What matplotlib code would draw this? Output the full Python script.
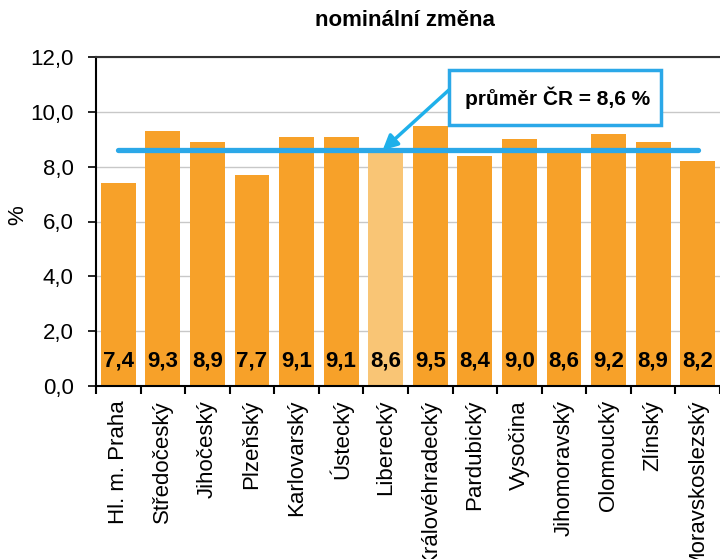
import matplotlib
matplotlib.use("Agg")
import matplotlib.pyplot as plt
from matplotlib.patches import Rectangle
import numpy as np

categories = ["Hl. m. Praha", "Středočeský", "Jihočeský", "Plzeňský", "Karlovarský",
              "Ústecký", "Liberecký", "Královéhradecký", "Pardubický", "Vysočina",
              "Jihomoravský", "Olomoucký", "Zlínský", "Moravskoslezský"]
values = [7.4, 9.3, 8.9, 7.7, 9.1, 9.1, 8.6, 9.5, 8.4, 9.0, 8.6, 9.2, 8.9, 8.2]
average = 8.6
highlight = "Liberecký"

plt.rcParams['font.family'] = ['Liberation Sans', 'DejaVu Sans']

fig = plt.figure(figsize=(7.2, 5.59), dpi=100)
ax = fig.add_axes([96/720, 1-386/559, 1-96/720, (386-57)/559])

x = np.arange(len(categories))
colors = ["#F9C575" if c == highlight else "#F7A129" for c in categories]
ax.bar(x, values, width=0.78, color=colors, zorder=2)
ax.set_xlim(-0.5, len(categories) - 0.5)
ax.set_ylim(0, 12)
yt = np.arange(0, 12.1, 2)
ax.set_yticks(yt)
ax.set_yticklabels([f"{v:.1f}".replace(".", ",") for v in yt], fontsize=16)
ax.yaxis.grid(True, color="#C8C8C8", linewidth=1, zorder=0)
ax.set_axisbelow(True)
ax.set_xticks(x)
ax.set_xticklabels(categories, rotation=90, fontsize=16)
ax.set_xticks(np.arange(-0.5, len(categories)), minor=True)
ax.tick_params(axis="x", which="major", length=0, pad=10)
ax.tick_params(axis="x", which="minor", length=6, width=1.5, direction="out")
ax.tick_params(axis="y", length=6, width=1.2, direction="out", pad=10)
ax.spines["right"].set_visible(False)
ax.spines["top"].set_color("#333333")
ax.spines["top"].set_linewidth(1.5)
ax.spines["left"].set_linewidth(1.5)
ax.spines["bottom"].set_linewidth(1.5)
ax.set_ylabel("%", fontsize=16)
ax.yaxis.set_label_coords(-0.109, 0.52)

for xi, v in zip(x, values):
    ax.text(xi, 0.9, f"{v:.1f}".replace(".", ","), ha="center", va="center",
            fontsize=16, fontweight="bold", zorder=4)

ax.plot([x[0], x[-1]], [average, average], color="#2BA8E8", linewidth=3.8, zorder=3,
        solid_capstyle="round")

# annotation box
bx0, bx1, by0, by1 = 7.42, 12.18, 9.52, 11.52
ax.add_patch(Rectangle((bx0, by0), bx1 - bx0, by1 - by0, facecolor="white",
                       edgecolor="#2BA8E8", linewidth=2.5, zorder=5))
ax.text(9.86, 10.5, f"průměr ČR = {average:.1f} %".replace(".", ","),
        fontsize=15, fontweight="bold", ha="center", va="center", zorder=6)
ax.annotate("", xy=(5.93, average), xytext=(bx0, 10.8),
            arrowprops=dict(arrowstyle="-|>", color="#1FB0EA", lw=2.5,
                            mutation_scale=22, shrinkA=0, shrinkB=0),
            zorder=6)

fig.text(405/720, 1-20/559, "nominální změna", ha="center", va="center",
         fontsize=16, fontweight="bold")

fig.savefig("out.png", dpi=100)
